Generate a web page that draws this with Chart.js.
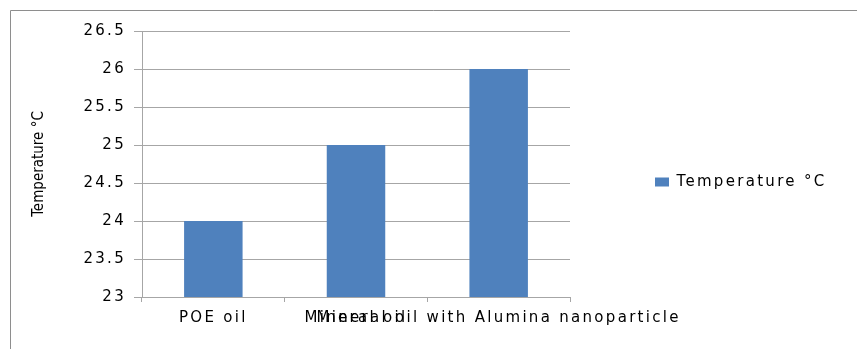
<!DOCTYPE html>
<html>
<head>
<meta charset="utf-8">
<script src="https://cdn.jsdelivr.net/npm/chart.js@4"></script>
<style>
  html, body { margin: 0; padding: 0; background: #ffffff; }
  #wrap { width: 857px; height: 349px; }
</style>
</head>
<body>
<div id="wrap"><canvas id="chart" width="857" height="349"></canvas></div>
<script>
// Oil types compared
const categories = ['POE oil', 'Mineral oil', 'Mineral oil with Alumina nanoparticle'];
// Measured temperature per oil type (°C)
const temperatures = [24, 25, 26];
// Value axis ticks
const yTicks = [23, 23.5, 24, 24.5, 25, 25.5, 26, 26.5];
const seriesLabel = 'Temperature °C';
const axisTitle = 'Temperature °C';

const W = 857, H = 349;
const plotLeft = 142, plotRight = 570, plotTop = 31, plotBottom = 297;
const bottomPad = 16;
const labelFont = { family: "'DejaVu Sans', Verdana, sans-serif", size: 15 };
const letterGap = '2.3px';
const legendGap = 85, legendBoxW = 14, legendBoxH = 9;

const gridGray = '#a6a6a6';
const barBlue = '#4f81bd';

// White page with the thin frame along the top and left edges
const frame = {
  id: 'frame',
  beforeDraw(chart) {
    const c = chart.ctx;
    c.save();
    c.fillStyle = '#ffffff';
    c.fillRect(0, 0, W, H);
    c.strokeStyle = '#8e8e8e';
    c.lineWidth = 1;
    c.beginPath();
    c.moveTo(10.5, H);
    c.lineTo(10.5, 10.5);
    c.lineTo(W, 10.5);
    c.stroke();
    c.restore();
  }
};

// Legend column takes all the room right of the plot
const legendColumn = {
  id: 'legendColumn',
  beforeLayout(chart) {
    const lg = chart.legend;
    if (lg && !lg._fixedWidth) {
      const fit = lg.fit;
      lg.fit = function () {
        fit.call(this);
        if (!this.isHorizontal()) this.width = W - plotRight;
      };
      lg._fixedWidth = true;
    }
  }
};

// Wide, spaced-out lettering for tick labels and legend; the axis title stays plain
const spacedText = {
  id: 'spacedText',
  beforeDraw(chart) {
    const ys = chart.scales.y;
    if (ys && !ys._plainTitle) {
      const orig = ys.drawTitle;
      ys.drawTitle = function () {
        const c = this.ctx;
        const prev = c.letterSpacing;
        c.letterSpacing = '0px';
        orig.call(this);
        c.letterSpacing = prev;
      };
      ys._plainTitle = true;
    }
    chart.ctx.letterSpacing = letterGap;
  },
  afterDraw(chart) {
    chart.ctx.letterSpacing = '0px';
  }
};

new Chart(document.getElementById('chart'), {
  type: 'bar',
  data: {
    labels: categories,
    datasets: [{
      label: seriesLabel,
      data: temperatures,
      backgroundColor: barBlue,
      borderWidth: 0,
      categoryPercentage: 1,
      barPercentage: 0.41
    }]
  },
  options: {
    responsive: false,
    animation: false,
    layout: { padding: { left: 0, top: plotTop, right: 0, bottom: bottomPad } },
    scales: {
      x: {
        offset: true,
        grid: { offset: true, drawOnChartArea: false, drawTicks: true, tickLength: 5, color: gridGray },
        border: { color: gridGray },
        ticks: {
          autoSkip: false, maxRotation: 0, minRotation: 0, padding: 7,
          color: '#000000', font: labelFont
        },
        afterFit(scale) { scale.height = H - bottomPad - plotBottom; }
      },
      y: {
        min: 23,
        max: 26.5,
        grid: { color: gridGray, tickLength: 8 },
        border: { color: gridGray },
        ticks: {
          padding: 8, color: '#000000', font: labelFont,
          callback: (v) => String(v)
        },
        afterBuildTicks(scale) { scale.ticks = yTicks.map(v => ({ value: v })); },
        title: {
          display: true,
          text: axisTitle,
          color: '#000000',
          font: { family: "'DejaVu Sans Condensed', 'DejaVu Sans', sans-serif", size: 15 },
          padding: { top: 30, bottom: 0 }
        },
        afterFit(scale) { scale.width = plotLeft; }
      }
    },
    plugins: {
      legend: {
        position: 'right',
        align: 'center',
        labels: {
          boxWidth: legendBoxW,
          boxHeight: legendBoxH,
          padding: legendGap,
          color: '#000000',
          font: labelFont
        }
      },
      tooltip: { enabled: false }
    }
  },
  plugins: [frame, legendColumn, spacedText]
});
</script>
</body>
</html>
